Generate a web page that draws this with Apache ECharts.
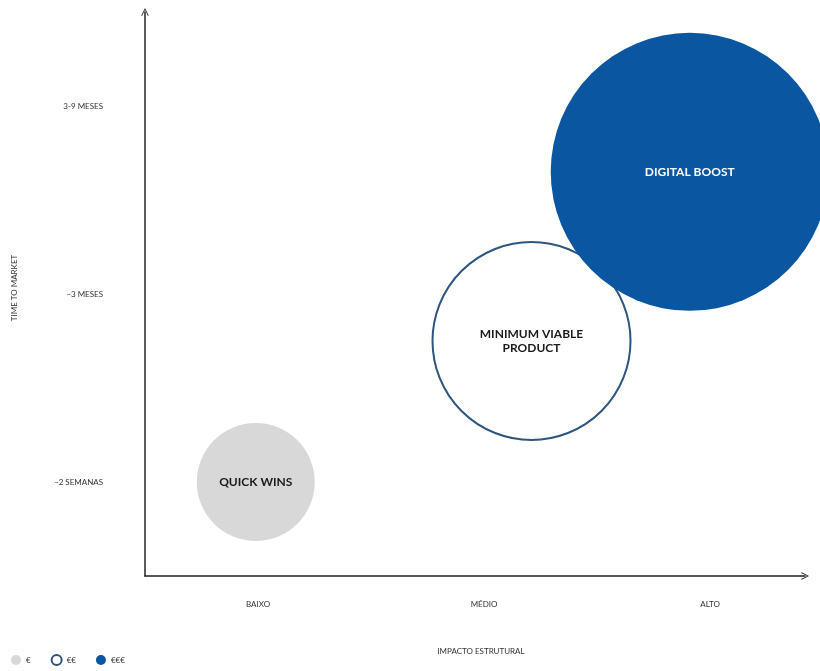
<!DOCTYPE html>
<html>
<head>
<meta charset="utf-8">
<script src="https://cdn.jsdelivr.net/npm/echarts@6/dist/echarts.min.js"></script>
<style>
  html, body { margin: 0; padding: 0; background: #fff; }
  #main { width: 820px; height: 671px; }
</style>
</head>
<body>
<div id="main"></div>
<script>
// categorias dos eixos
const impacto = ['BAIXO', 'MÉDIO', 'ALTO'];
const tempo = ['~2 SEMANAS', '~3 MESES', '3-9 MESES'];

// bolhas
const nomes = ['QUICK WINS', 'MINIMUM VIABLE\nPRODUCT', 'DIGITAL BOOST'];
const custo = ['€', '€€', '€€€'];
const impactoVal = [0.49, 1.71, 2.41];
const tempoVal = [0.5, 1.25, 2.15];
const diametro = [118, 198, 278];

const font = 'Lato, "DejaVu Sans", sans-serif';
const chevron = 'path://M0,10 L5,0 L10,10 L9,10.8 L5,2.4 L1,10.8 Z';

const catAt = (labels) => (v) => {
  const i = Math.round(v - 0.5);
  return Math.abs(v - 0.5 - i) < 1e-6 && labels[i] ? labels[i] : '';
};

const styles = [
  { color: '#d9d8d8' },
  { color: '#ffffff', borderColor: '#2d557d', borderWidth: 2 },
  { color: '#0a56a0' }
];
const labelColors = ['#1a1a1a', '#1a1a1a', '#ffffff'];

const series = nomes.map((n, i) => ({
  name: custo[i],
  type: 'scatter',
  data: [{ name: n, value: [impactoVal[i], tempoVal[i]] }],
  symbolSize: diametro[i],
  itemStyle: Object.assign({ opacity: 1 }, styles[i]),
  label: {
    show: true,
    position: 'inside',
    formatter: '{b}',
    color: labelColors[i],
    fontFamily: font,
    fontWeight: 'bold',
    fontSize: 12,
    lineHeight: 14
  },
  emphasis: { disabled: true },
  z: 2 + i
}));

const chart = echarts.init(document.getElementById('main'));
chart.setOption({
  backgroundColor: '#fff',
  animation: false,
  grid: { left: 145, right: 15, top: 12, bottom: 95, containLabel: false },
  legend: {
    left: 6,
    bottom: 0,
    icon: 'circle',
    itemWidth: 10,
    itemHeight: 10,
    itemGap: 20,
    textStyle: { fontFamily: font, fontSize: 8, color: '#333' },
    data: custo
  },
  xAxis: {
    type: 'value',
    min: 0,
    max: 2.92,
    interval: 0.5,
    splitLine: { show: false },
    axisTick: { show: false },
    axisLine: {
      lineStyle: { color: '#222', width: 1.5 },
      symbol: ['none', chevron],
      symbolSize: [11, 8]
    },
    axisLabel: {
      formatter: catAt(impacto),
      margin: 24,
      fontFamily: font,
      fontSize: 8,
      color: '#333',
      showMaxLabel: false
    },
    name: 'IMPACTO ESTRUTURAL',
    nameLocation: 'middle',
    nameGap: 71,
    nameTextStyle: { fontFamily: font, fontSize: 8, color: '#333', padding: [0, 0, 0, 12] }
  },
  yAxis: {
    type: 'value',
    min: 0,
    max: 3.0,
    interval: 0.5,
    splitLine: { show: false },
    axisTick: { show: false },
    axisLine: {
      lineStyle: { color: '#222', width: 1.5 },
      symbol: ['none', chevron],
      symbolSize: [11, 8]
    },
    axisLabel: {
      formatter: catAt(tempo),
      margin: 42,
      fontFamily: font,
      fontSize: 8,
      color: '#333',
      showMaxLabel: false
    },
    name: 'TIME TO MARKET',
    nameLocation: 'middle',
    nameGap: 127,
    nameTextStyle: { fontFamily: font, fontSize: 8, color: '#333', padding: [0, 0, 0, 12] }
  },
  series: series
});
</script>
</body>
</html>
